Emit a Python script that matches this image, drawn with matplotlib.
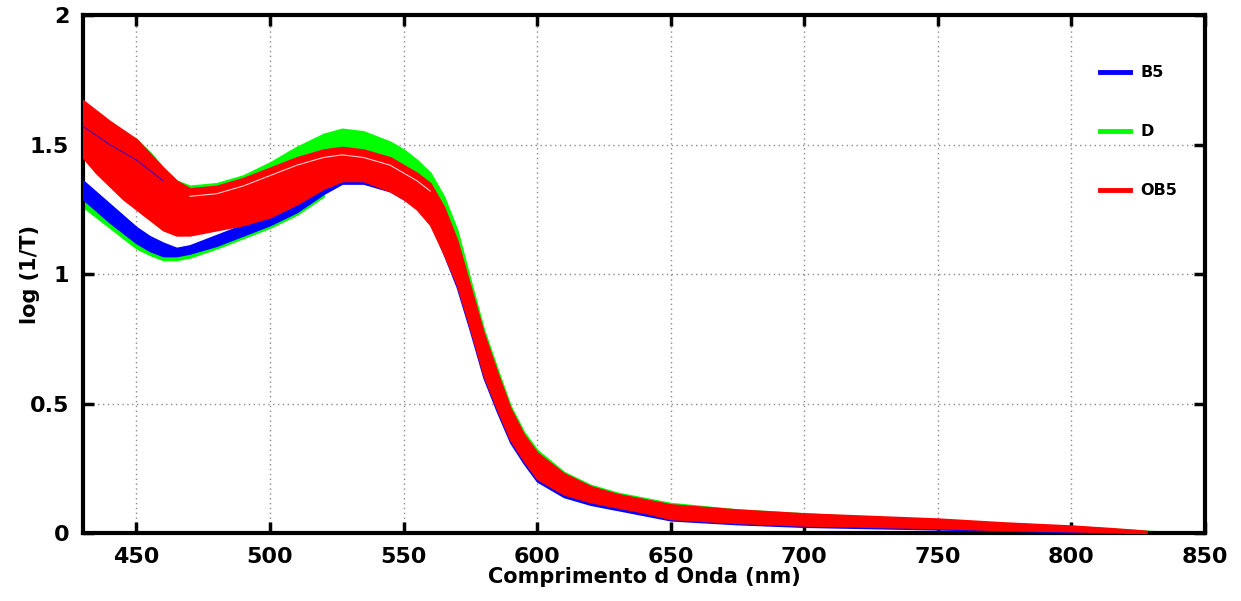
import matplotlib
matplotlib.use("Agg")
import matplotlib.pyplot as plt
import numpy as np

nan = np.nan

# wavelengths (nm)
WL = [430, 435, 440, 445, 450, 455, 460, 465, 470, 480, 490, 500, 510, 520, 527, 535, 545, 550,
      555, 560, 565, 570, 575, 580, 585, 590, 595, 600, 610, 620, 630, 640, 650,
      675, 700, 725, 750, 775, 800, 815, 828, 835]

# OB5 band (red), lower / upper envelope of the curves
OB5_LO = [1.45, 1.39, 1.34, 1.29, 1.25, 1.21, 1.17, 1.15, 1.15, 1.17, 1.19, 1.22, 1.27, 1.33, 1.36, 1.36, 1.32, 1.29,
          1.25, 1.19, 1.08, 0.96, 0.79, 0.61, 0.48, 0.36, 0.28, 0.21, 0.15, 0.12, 0.10, 0.08, 0.055,
          0.04, 0.03, 0.025, 0.02, 0.012, 0.008, 0.004, 0.0, nan]
OB5_HI = [1.67, 1.63, 1.59, 1.555, 1.52, 1.465, 1.41, 1.36, 1.33, 1.34, 1.37, 1.41, 1.45, 1.48, 1.49, 1.48, 1.45, 1.42,
          1.39, 1.35, 1.26, 1.13, 0.95, 0.77, 0.62, 0.48, 0.38, 0.31, 0.23, 0.18, 0.15, 0.13, 0.11,
          0.09, 0.075, 0.065, 0.055, 0.04, 0.028, 0.018, 0.008, nan]
# thin white streak inside the red band
OB5_GAP = [nan, nan, nan, nan, nan, nan, nan, nan, 1.30, 1.31, 1.34, 1.38, 1.42, 1.45, 1.46, 1.45, 1.42, 1.39,
           1.36, 1.32, nan, nan, nan, nan, nan, nan, nan, nan, nan, nan, nan, nan, nan,
           nan, nan, nan, nan, nan, nan, nan, nan, nan]

# B5 band (blue)
B5_LO = [1.29, 1.245, 1.20, 1.16, 1.12, 1.09, 1.07, 1.07, 1.08, 1.11, 1.15, 1.19, 1.24, 1.31, 1.35, 1.35, 1.32, 1.29,
         1.26, 1.20, 1.08, 0.95, 0.78, 0.60, 0.47, 0.35, 0.27, 0.20, 0.14, 0.11, 0.09, 0.07, 0.05,
         0.035, 0.025, 0.02, 0.015, 0.01, 0.005, 0.002, 0.0, nan]
B5_HI = [1.36, 1.315, 1.27, 1.225, 1.18, 1.145, 1.12, 1.10, 1.11, 1.15, 1.19, 1.23, 1.29, 1.35, 1.38, 1.38, 1.36, 1.33,
         1.30, 1.25, 1.15, 1.00, 0.85, 0.67, 0.52, 0.40, 0.31, 0.24, 0.18, 0.14, 0.12, 0.10, 0.08,
         0.06, 0.05, 0.04, 0.035, 0.025, 0.015, 0.01, 0.005, nan]
# a few B5 curves running inside the red band
B5_INNER = [1.57, 1.535, 1.50, 1.47, 1.44, 1.40, 1.36, nan, nan, nan, nan, nan, nan, nan, nan, nan, nan, nan,
            nan, nan, nan, nan, nan, nan, nan, nan, nan, nan, nan, nan, nan, nan, nan,
            nan, nan, nan, nan, nan, nan, nan, nan, nan]

# D band (green): upper group and lower group
D_UP_LO = [1.62, 1.585, 1.55, 1.52, 1.49, 1.44, 1.38, 1.33, 1.30, 1.31, 1.34, 1.38, 1.43, 1.46, 1.47, 1.46, 1.43, 1.40,
           1.37, 1.32, 1.22, 1.10, 0.92, 0.74, 0.59, 0.46, 0.36, 0.29, 0.21, 0.16, 0.13, 0.11, 0.09,
           0.07, 0.055, 0.045, 0.035, 0.025, 0.015, 0.008, 0.003, 0.0]
D_UP_HI = [1.66, 1.62, 1.58, 1.55, 1.52, 1.47, 1.41, 1.36, 1.34, 1.35, 1.38, 1.43, 1.49, 1.54, 1.56, 1.55, 1.51, 1.48,
           1.44, 1.39, 1.30, 1.17, 0.975, 0.785, 0.635, 0.49, 0.39, 0.32, 0.235, 0.185, 0.155, 0.135, 0.115,
           0.09, 0.075, 0.062, 0.05, 0.038, 0.025, 0.016, 0.008, 0.004]
D_LOW_LO = [1.26, 1.22, 1.18, 1.14, 1.10, 1.075, 1.055, 1.055, 1.065, 1.10, 1.14, 1.18, 1.23, 1.30, nan, nan, nan, nan,
            nan, nan, nan, nan, nan, nan, nan, nan, nan, nan, nan, nan, nan, nan, nan,
            nan, nan, nan, nan, nan, nan, nan, nan, nan]
D_LOW_HI = [1.29, 1.25, 1.21, 1.17, 1.13, 1.10, 1.08, 1.075, 1.085, 1.12, 1.16, 1.20, 1.25, 1.32, nan, nan, nan, nan,
            nan, nan, nan, nan, nan, nan, nan, nan, nan, nan, nan, nan, nan, nan, nan,
            nan, nan, nan, nan, nan, nan, nan, nan, nan]

XTICKS = [450, 500, 550, 600, 650, 700, 750, 800, 850]
YTICKS = [0, 0.5, 1, 1.5, 2]
YTICK_LABELS = ["0", "0.5", "1", "1.5", "2"]

BLUE = "#0000ff"
GREEN = "#00ff00"
RED = "#ff0000"


def band(ax, lo, hi, color, z):
    ax.fill_between(WL, lo, hi, color=color, lw=1.4, ec=color, zorder=z)


def main() -> None:
    plt.rcParams["font.family"] = "DejaVu Sans"
    plt.rcParams["font.weight"] = "bold"

    fig = plt.figure(figsize=(12.41, 6.01), dpi=100)
    ax = fig.add_axes([0.0669, 0.1131, 0.9041, 0.8619])

    band(ax, D_UP_LO, D_UP_HI, GREEN, 2)
    band(ax, D_LOW_LO, D_LOW_HI, GREEN, 2)
    band(ax, B5_LO, B5_HI, BLUE, 3)
    band(ax, OB5_LO, OB5_HI, RED, 4)
    ax.plot(WL, OB5_GAP, color="white", lw=0.8, alpha=0.8, zorder=5)
    ax.plot(WL, B5_INNER, color=BLUE, lw=0.8, alpha=0.7, zorder=5)

    # legend handles
    ax.plot([], [], color=BLUE, lw=3.5, label="B5")
    ax.plot([], [], color=GREEN, lw=3.5, label="D")
    ax.plot([], [], color=RED, lw=3.5, label="OB5")
    ax.legend(loc="upper left", bbox_to_anchor=(0.906, 0.903), frameon=False,
              prop={"size": 11.5, "weight": "bold"}, borderpad=0, borderaxespad=0,
              handlelength=1.9, handletextpad=0.65, labelspacing=2.75)

    ax.set_xlim(430, 850)
    ax.set_ylim(0, 2)
    ax.set_xticks(XTICKS)
    ax.set_yticks(YTICKS)
    ax.set_yticklabels(YTICK_LABELS)
    ax.grid(True, color="#8a8a8a", lw=1.0, ls=(0, (1, 2.5)))
    ax.set_axisbelow(True)

    for s in ax.spines.values():
        s.set_linewidth(3)
    ax.tick_params(direction="in", length=8, width=2.5, top=True, right=True,
                   labelsize=16, pad=10)

    ax.set_xlabel("Comprimento d Onda (nm)", fontsize=15, fontweight="bold")
    ax.set_ylabel("log (1/T)", fontsize=15, fontweight="bold")
    ax.xaxis.set_label_coords(0.5, -0.066)
    ax.yaxis.set_label_coords(-0.038, 0.5)

    fig.savefig("out.png", dpi=100)


if __name__ == '__main__':
    main()
